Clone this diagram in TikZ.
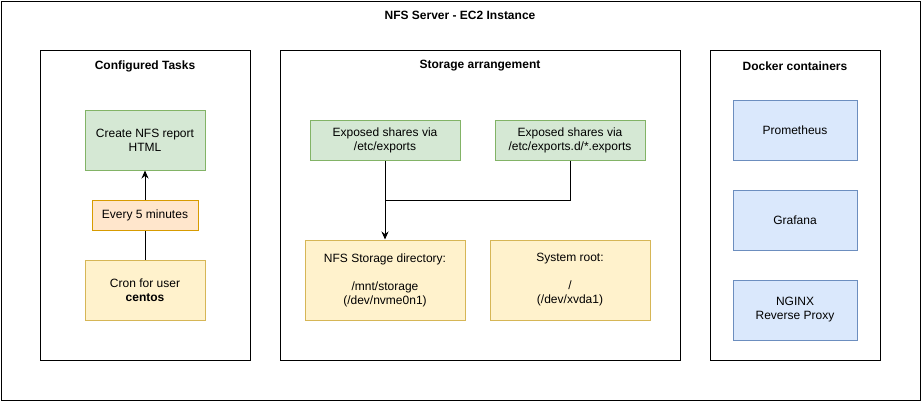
\documentclass[tikz,border=0pt]{standalone}
\usepackage{fontspec}
\setmainfont{Liberation Sans}
\usetikzlibrary{arrows.meta}

\definecolor{greenfill}{HTML}{D5E8D4}
\definecolor{greenline}{HTML}{82B366}
\definecolor{yellowfill}{HTML}{FFF2CC}
\definecolor{yellowline}{HTML}{D6B656}
\definecolor{orangefill}{HTML}{FFE6CC}
\definecolor{orangeline}{HTML}{D79B00}
\definecolor{bluefill}{HTML}{DAE8FC}
\definecolor{blueline}{HTML}{6C8EBF}

\tikzset{
  frame/.style={draw=black, line width=1pt, inner sep=0pt},
  greenbox/.style={draw=greenline, fill=greenfill, line width=1pt, inner sep=0pt},
  yellowbox/.style={draw=yellowline, fill=yellowfill, line width=1pt, inner sep=0pt},
  orangebox/.style={draw=orangeline, fill=orangefill, line width=1pt, inner sep=0pt},
  bluebox/.style={draw=blueline, fill=bluefill, line width=1pt, inner sep=0pt},
  link/.style={line width=1pt, black},
}

\begin{document}
\begin{tikzpicture}[x=1pt, y=-1pt, every node/.style={font=\fontsize{12}{14}\selectfont, align=center}]
			\useasboundingbox (0,0) rectangle (922,402);
			% Frames
			\node[frame, minimum width=919pt, minimum height=399pt] (ec2) at (460.5,200.5) {};
			\node (ec2title) at (460,15) {\textbf{NFS Server - EC2 Instance}};
			\node[frame, minimum width=210pt, minimum height=310pt] (tasks) at (145,205) {};
			\node (taskstitle) at (145,66) {\textbf{Configured Tasks}};
			\node[frame, minimum width=400pt, minimum height=310pt] (storage) at (480,205) {};
			\node (storagetitle) at (480,66) {\textbf{Storage arrangement}};
			\node[frame, minimum width=170pt, minimum height=310pt] (docker) at (795,205) {};
			\node (dockertitle) at (795,66) {\textbf{Docker containers}};
			
			% Nodes
			\node[greenbox, minimum width=120pt, minimum height=60pt] (report) at (145,140) {Create NFS report\\HTML};
			\node[orangebox, minimum width=106pt, minimum height=30pt] (every) at (145,215) {Every 5 minutes};
			\node[yellowbox, minimum width=120pt, minimum height=60pt] (cron) at (145,290) {Cron for user\\\textbf{centos}};
			
			\node[greenbox, minimum width=150pt, minimum height=40pt] (etc) at (385,140) {Exposed shares via\\/etc/exports};
			\node[greenbox, minimum width=150pt, minimum height=40pt] (etcd) at (570,140) {Exposed shares via\\/etc/exports.d/*.exports};
			\node[yellowbox, minimum width=160pt, minimum height=80pt] (nfs) at (385,280) {NFS Storage directory:\\[14pt]/mnt/storage\\(/dev/nvme0n1)};
			\node[yellowbox, minimum width=160pt, minimum height=80pt] (root) at (570,280) {System root:\\[14pt]/\\(/dev/xvda1)};
			\coordinate (join) at (385,200);
			
			\node[bluebox, minimum width=124pt, minimum height=60pt] (prometheus) at (795,130) {Prometheus};
			\node[bluebox, minimum width=124pt, minimum height=60pt] (grafana) at (795,220) {Grafana};
			\node[bluebox, minimum width=124pt, minimum height=60pt] (nginx) at (795,310) {NGINX\\Reverse Proxy};
			
			% Edges
			\draw[link] (cron) -- (every);
			\draw[link, -{Stealth[length=8pt, width=7pt]}] (every) -- (report);
			\draw[link, -{Stealth[length=8pt, width=7pt]}] (etc) -- (nfs);
			\draw[link] (etcd) |- (join);
		\end{tikzpicture}
\end{document}
